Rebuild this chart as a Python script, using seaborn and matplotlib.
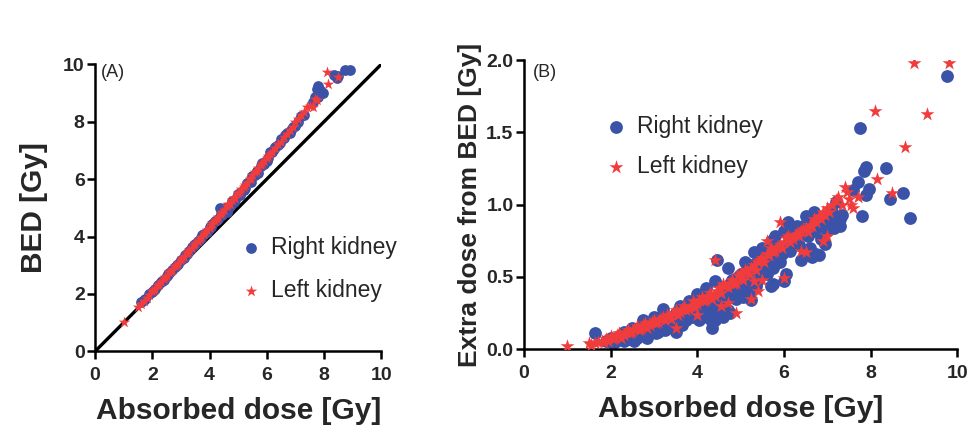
"""
BED 与吸收剂量散点图 (A) / 额外剂量 (B)
"""

import numpy as np
import pandas as pd
import matplotlib
matplotlib.use("Agg")
import matplotlib.pyplot as plt
import seaborn as sns

# ---- 数据 ----
# Panel A: (吸收剂量, BED)
right_a = [
    (1.6, 1.72), (1.7, 1.78), (1.75, 1.84), (1.9, 2.00), (2.0, 2.08), (2.05, 2.14),
    (2.1, 2.17), (2.2, 2.30), (2.3, 2.40), (2.35, 2.44), (2.4, 2.50), (2.5, 2.62),
    (2.55, 2.70), (2.6, 2.74), (2.7, 2.84), (2.8, 2.95), (2.85, 3.02), (2.9, 3.05),
    (3.0, 3.18), (3.1, 3.26), (3.15, 3.35), (3.2, 3.40), (3.3, 3.48), (3.4, 3.62),
    (3.45, 3.70), (3.5, 3.73), (3.6, 3.86), (3.7, 3.95), (3.75, 4.05), (3.8, 4.10),
    (3.9, 4.15), (4.0, 4.32), (4.05, 4.35), (4.1, 4.42), (4.2, 4.55), (4.25, 4.58),
    (4.3, 4.62), (4.35, 4.98), (4.4, 4.80), (4.45, 4.75), (4.5, 4.88), (4.55, 5.00),
    (4.6, 4.85), (4.65, 4.95), (4.7, 5.05), (4.8, 5.25), (4.85, 5.20), (4.9, 5.26),
    (5.0, 5.48), (5.05, 5.45), (5.1, 5.55), (5.2, 5.62), (5.25, 5.70), (5.3, 5.85),
    (5.4, 5.92), (5.45, 5.90), (5.5, 6.10), (5.6, 6.15), (5.65, 6.30), (5.7, 6.20),
    (5.8, 6.45), (5.85, 6.55), (5.9, 6.52), (6.0, 6.62), (6.05, 6.75), (6.1, 6.95),
    (6.2, 6.95), (6.25, 7.05), (6.3, 7.12), (6.4, 7.18), (6.45, 7.25), (6.5, 7.40),
    (6.6, 7.45), (6.65, 7.55), (6.7, 7.62), (6.8, 7.62), (6.85, 7.70), (6.9, 7.80),
    (7.0, 7.85), (7.1, 8.00), (7.2, 8.20), (7.3, 8.22), (7.6, 8.70), (7.7, 8.85),
    (7.75, 9.15), (7.8, 9.25), (7.8, 8.85), (7.85, 9.10), (7.9, 9.05), (7.95, 9.00),
    (8.35, 9.62), (8.45, 9.52), (8.5, 9.60), (8.75, 9.80), (8.9, 9.80),
]
left_a = [
    (1.0, 1.02), (1.5, 1.54), (1.6, 1.65), (1.7, 1.76), (1.8, 1.86), (1.9, 1.97),
    (2.0, 2.09), (2.05, 2.15), (2.1, 2.18), (2.2, 2.31), (2.25, 2.36), (2.3, 2.40),
    (2.4, 2.53), (2.45, 2.58), (2.5, 2.62), (2.6, 2.76), (2.65, 2.80), (2.7, 2.84),
    (2.8, 2.98), (2.85, 3.02), (2.9, 3.07), (3.0, 3.20), (3.05, 3.25), (3.1, 3.29),
    (3.2, 3.42), (3.25, 3.47), (3.3, 3.54), (3.4, 3.61), (3.45, 3.70), (3.5, 3.77),
    (3.6, 3.86), (3.65, 3.93), (3.7, 4.00), (3.8, 4.08), (3.85, 4.17), (3.9, 4.23),
    (4.0, 4.31), (4.05, 4.40), (4.1, 4.46), (4.2, 4.54), (4.25, 4.62), (4.3, 4.69),
    (4.4, 4.77), (4.45, 4.86), (4.5, 4.92), (4.6, 5.05), (4.65, 5.12), (4.7, 5.13),
    (4.8, 5.28), (4.85, 5.36), (4.9, 5.36), (5.0, 5.53), (5.05, 5.55), (5.1, 5.65),
    (5.2, 5.72), (5.25, 5.80), (5.3, 5.88), (5.4, 6.00), (5.45, 6.05), (5.5, 6.13),
    (5.6, 6.26), (5.65, 6.30), (5.7, 6.40), (5.8, 6.48), (5.85, 6.55), (5.9, 6.62),
    (6.0, 6.74), (6.05, 6.80), (6.1, 6.88), (6.2, 6.96), (6.3, 7.08), (6.4, 7.22),
    (6.5, 7.30), (6.6, 7.46), (6.7, 7.58), (6.8, 7.72), (6.9, 7.80), (7.0, 7.98),
    (7.1, 8.10), (7.2, 8.22), (7.3, 8.35), (7.4, 8.52), (7.5, 8.55), (7.6, 8.50),
    (7.7, 8.80), (7.75, 8.75), (8.1, 9.75), (8.15, 9.30), (8.5, 9.55),
]

# Panel B: (吸收剂量, 额外剂量)
right_b = [
    (1.65, 0.11), (1.9, 0.06), (2.0, 0.08), (2.0, 0.05), (2.1, 0.05), (2.15, 0.07),
    (2.2, 0.09), (2.3, 0.12), (2.3, 0.06), (2.4, 0.07), (2.45, 0.09), (2.5, 0.15),
    (2.5, 0.10), (2.55, 0.06), (2.6, 0.08), (2.65, 0.11), (2.7, 0.13), (2.75, 0.20),
    (2.8, 0.10), (2.85, 0.08), (2.9, 0.14), (2.95, 0.19), (3.0, 0.16), (3.0, 0.22),
    (3.05, 0.11), (3.1, 0.12), (3.15, 0.15), (3.2, 0.18), (3.2, 0.28), (3.25, 0.13),
    (3.3, 0.15), (3.35, 0.19), (3.4, 0.22), (3.45, 0.16), (3.5, 0.20), (3.5, 0.25),
    (3.5, 0.12), (3.55, 0.18), (3.6, 0.30), (3.6, 0.22), (3.65, 0.17), (3.7, 0.24),
    (3.75, 0.20), (3.8, 0.33), (3.8, 0.27), (3.85, 0.25), (3.9, 0.22), (3.95, 0.28),
    (4.0, 0.38), (4.0, 0.30), (4.05, 0.20), (4.05, 0.27), (4.1, 0.35), (4.15, 0.23),
    (4.2, 0.28), (4.2, 0.42), (4.25, 0.36), (4.3, 0.25), (4.3, 0.33), (4.3, 0.21),
    (4.35, 0.15), (4.35, 0.30), (4.4, 0.20), (4.4, 0.47), (4.4, 0.24), (4.45, 0.62),
    (4.45, 0.25), (4.5, 0.38), (4.5, 0.30), (4.5, 0.25), (4.55, 0.35), (4.6, 0.22),
    (4.6, 0.43), (4.65, 0.37), (4.7, 0.56), (4.7, 0.27), (4.75, 0.25), (4.75, 0.45),
    (4.8, 0.48), (4.8, 0.40), (4.85, 0.42), (4.9, 0.35), (4.95, 0.50), (5.0, 0.52),
    (5.0, 0.45), (5.05, 0.40), (5.05, 0.36), (5.1, 0.60), (5.1, 0.42), (5.15, 0.48),
    (5.2, 0.38), (5.25, 0.34), (5.25, 0.58), (5.3, 0.55), (5.3, 0.67), (5.35, 0.44),
    (5.4, 0.48), (5.4, 0.62), (5.45, 0.52), (5.5, 0.57), (5.5, 0.70), (5.55, 0.64),
    (5.6, 0.52), (5.65, 0.60), (5.7, 0.44), (5.7, 0.75), (5.75, 0.56), (5.75, 0.45),
    (5.8, 0.65), (5.8, 0.78), (5.85, 0.70), (5.9, 0.60), (5.95, 0.66), (6.0, 0.47),
    (6.0, 0.82), (6.0, 0.70), (6.05, 0.52), (6.1, 0.88), (6.15, 0.68), (6.2, 0.75),
    (6.25, 0.82), (6.3, 0.85), (6.35, 0.72), (6.4, 0.80), (6.4, 0.62), (6.45, 0.85),
    (6.5, 0.92), (6.55, 0.65), (6.55, 0.78), (6.6, 0.88), (6.6, 0.70), (6.65, 0.64),
    (6.7, 0.95), (6.7, 0.82), (6.75, 0.66), (6.8, 0.65), (6.8, 0.85), (6.85, 0.76),
    (6.9, 0.90), (6.95, 0.73), (7.0, 0.82), (7.05, 0.88), (7.1, 0.95), (7.15, 0.84),
    (7.2, 1.02), (7.25, 0.88), (7.3, 0.90), (7.3, 0.85), (7.35, 0.93), (7.6, 1.10),
    (7.7, 1.16), (7.75, 1.53), (7.8, 0.92), (7.85, 1.23), (7.9, 1.26), (7.9, 1.07),
    (7.95, 1.11), (8.35, 1.25), (8.45, 1.04), (8.75, 1.08), (8.9, 0.91), (9.75, 1.89),
]
left_b = [
    (1.0, 0.02), (1.5, 0.04), (1.55, 0.03), (1.65, 0.04), (1.7, 0.05), (1.8, 0.06),
    (1.85, 0.05), (1.9, 0.07), (1.95, 0.06), (2.0, 0.09), (2.05, 0.07), (2.1, 0.08),
    (2.15, 0.10), (2.2, 0.11), (2.25, 0.08), (2.3, 0.10), (2.35, 0.12), (2.4, 0.13),
    (2.45, 0.11), (2.5, 0.12), (2.55, 0.14), (2.6, 0.16), (2.65, 0.13), (2.7, 0.14),
    (2.75, 0.17), (2.8, 0.18), (2.85, 0.15), (2.9, 0.17), (2.95, 0.19), (3.0, 0.20),
    (3.05, 0.18), (3.1, 0.19), (3.15, 0.21), (3.2, 0.22), (3.25, 0.20), (3.3, 0.24),
    (3.35, 0.23), (3.4, 0.21), (3.45, 0.25), (3.5, 0.27), (3.5, 0.15), (3.55, 0.24),
    (3.6, 0.26), (3.65, 0.28), (3.7, 0.30), (3.75, 0.27), (3.8, 0.28), (3.85, 0.30),
    (3.9, 0.33), (3.95, 0.29), (4.0, 0.31), (4.0, 0.24), (4.05, 0.34), (4.1, 0.36),
    (4.15, 0.33), (4.2, 0.34), (4.25, 0.37), (4.3, 0.39), (4.35, 0.35), (4.4, 0.62),
    (4.4, 0.37), (4.45, 0.40), (4.5, 0.42), (4.55, 0.30), (4.55, 0.39), (4.6, 0.45),
    (4.65, 0.44), (4.7, 0.43), (4.7, 0.32), (4.75, 0.46), (4.8, 0.48), (4.85, 0.45),
    (4.9, 0.46), (4.9, 0.25), (4.95, 0.51), (5.0, 0.53), (5.0, 0.50), (5.05, 0.48),
    (5.1, 0.55), (5.15, 0.54), (5.2, 0.52), (5.25, 0.35), (5.25, 0.56), (5.3, 0.58),
    (5.3, 0.47), (5.35, 0.55), (5.4, 0.40), (5.4, 0.60), (5.45, 0.62), (5.5, 0.63),
    (5.5, 0.48), (5.55, 0.60), (5.6, 0.75), (5.6, 0.66), (5.65, 0.65), (5.7, 0.70),
    (5.75, 0.67), (5.8, 0.68), (5.85, 0.71), (5.9, 0.72), (5.9, 0.88), (5.95, 0.70),
    (6.0, 0.74), (6.0, 0.49), (6.05, 0.77), (6.1, 0.78), (6.15, 0.74), (6.2, 0.76),
    (6.25, 0.79), (6.3, 0.80), (6.35, 0.78), (6.4, 0.82), (6.4, 0.68), (6.45, 0.83),
    (6.5, 0.84), (6.5, 0.67), (6.55, 0.81), (6.6, 0.86), (6.65, 0.85), (6.7, 0.90),
    (6.75, 0.88), (6.8, 0.92), (6.85, 0.90), (6.9, 0.95), (6.9, 0.75), (6.95, 0.93),
    (7.0, 0.78), (7.0, 0.98), (7.05, 0.95), (7.1, 1.00), (7.2, 1.03), (7.25, 1.05),
    (7.35, 1.00), (7.4, 1.12), (7.45, 1.09), (7.5, 1.04), (7.55, 1.00), (7.6, 0.98),
    (7.7, 1.05), (8.1, 1.65), (8.15, 1.18), (8.5, 1.08), (8.8, 1.40), (9.0, 1.98),
    (9.3, 1.63), (9.8, 1.98),
]

BLUE = "#3a52a8"
RED = "#f03c3c"


def make_df(right, left):
    """合并左右肾数据为长表"""
    rows = [(d, v, "Right kidney") for d, v in right]
    rows += [(d, v, "Left kidney") for d, v in left]
    return pd.DataFrame(rows, columns=["dose", "val", "kidney"])


sns.set_style("ticks")
plt.rcParams["font.family"] = ["Liberation Sans", "DejaVu Sans"]

fig = plt.figure(figsize=(9.7, 4.29), dpi=100)
ax_a = fig.add_axes([0.098, 0.181, 0.295, 0.669])
ax_b = fig.add_axes([0.540, 0.186, 0.447, 0.674])

df_a = make_df(right_a, left_a)
df_b = make_df(right_b, left_b)

ax_a.plot([0, 10], [0, 10], color="black", lw=2.4, zorder=1)

for ax, df, sizes in [(ax_a, df_a, (60, 75)), (ax_b, df_b, (85, 110))]:
    sns.scatterplot(data=df[df.kidney == "Right kidney"], x="dose", y="val",
                    color=BLUE, marker="o", s=sizes[0], linewidth=0,
                    label="Right kidney", ax=ax, zorder=2)
    sns.scatterplot(data=df[df.kidney == "Left kidney"], x="dose", y="val",
                    color=RED, marker="*", s=sizes[1], linewidth=0,
                    label="Left kidney", ax=ax, zorder=3)

ax_a.set_xlim(0, 10)
ax_a.set_ylim(0, 10)
ax_a.set_xticks(range(0, 11, 2))
ax_a.set_yticks(range(0, 11, 2))
ax_a.set_ylabel("BED [Gy]", fontsize=21.5, fontweight="bold", labelpad=11)
ax_a.text(0.02, 1.0, "(A)", transform=ax_a.transAxes, fontsize=13, va="top")

ax_b.set_xlim(0, 10)
ax_b.set_ylim(0, 2.0)
ax_b.set_xticks(range(0, 11, 2))
ax_b.set_yticks(np.arange(0, 2.01, 0.5))
ax_b.set_yticklabels([f"{v:.1f}" for v in np.arange(0, 2.01, 0.5)])
ax_b.set_ylabel("Extra dose from BED [Gy]", fontsize=19, fontweight="bold", labelpad=3)
ax_b.text(0.02, 0.985, "(B)", transform=ax_b.transAxes, fontsize=13, va="top")

for ax in (ax_a, ax_b):
    ax.set_xlabel("Absorbed dose [Gy]", fontsize=21.5, fontweight="bold", labelpad=9)
    for side in ("top", "right"):
        ax.spines[side].set_visible(False)
    for side in ("left", "bottom"):
        ax.spines[side].set_linewidth(1.8)
        ax.spines[side].set_color("black")
    ax.tick_params(width=1.8, length=5.5, labelsize=14, color="black")
    ax.tick_params(axis="x", pad=6)
    ax.tick_params(axis="y", pad=2)
    for lab in ax.get_xticklabels() + ax.get_yticklabels():
        lab.set_fontweight("bold")

ax_a.legend(loc="center left", bbox_to_anchor=(0.44, 0.287), frameon=False,
            fontsize=16.5, handlelength=0.8, handletextpad=0.5, labelspacing=0.85)
ax_b.legend(loc="center left", bbox_to_anchor=(0.145, 0.70), frameon=False,
            fontsize=16.5, handlelength=0.8, handletextpad=0.5, labelspacing=0.75)

fig.savefig("out.png", dpi=100)
plt.close(fig)
